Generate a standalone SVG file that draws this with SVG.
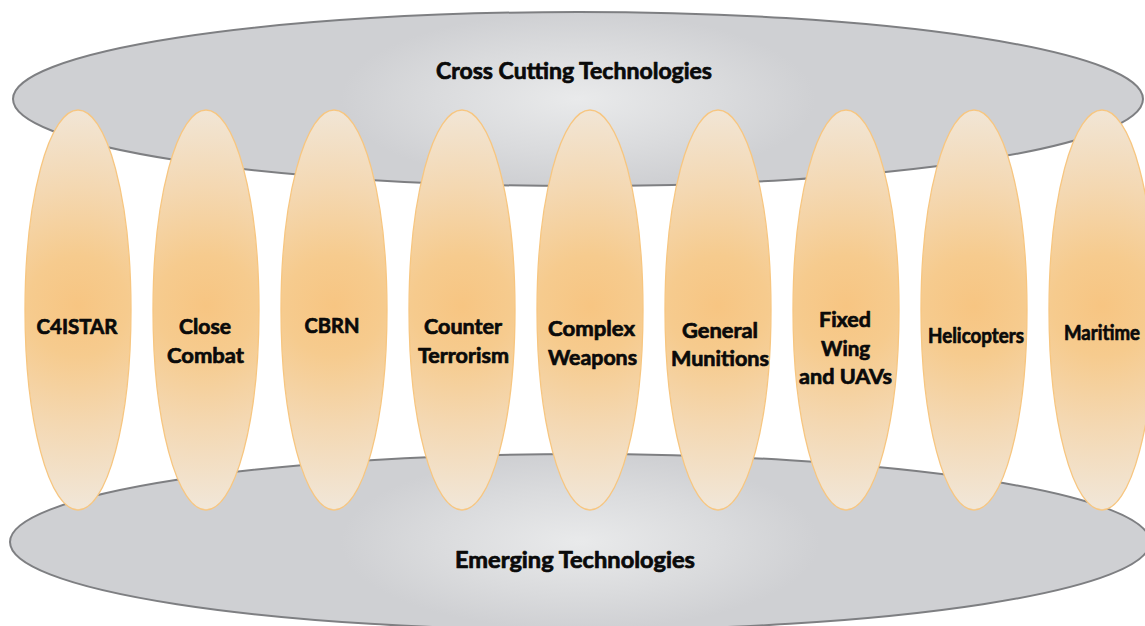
<svg xmlns="http://www.w3.org/2000/svg" width="1145" height="626" viewBox="0 0 1145 626">
  <defs>
    <radialGradient id="grayFill" cx="0.5" cy="0.5" r="0.5" fx="0.5" fy="0.5" gradientTransform="translate(0.5 0.5) scale(0.42 1) translate(-0.5 -0.5)">
      <stop offset="0" stop-color="#E9EAEB"/>
      <stop offset="0.6" stop-color="#DADBDD"/>
      <stop offset="1" stop-color="#CFD0D3"/>
    </radialGradient>
    <!-- circular falloff inside each tall ellipse (scaled by ry/rx) -->
    <radialGradient id="orangeFill" cx="0.5" cy="0.49" r="0.5" fx="0.5" fy="0.49" gradientTransform="translate(0.5 0.49) scale(3.77 1) translate(-0.5 -0.49)">
      <stop offset="0" stop-color="#F7C582"/>
      <stop offset="0.25" stop-color="#F6CB8E"/>
      <stop offset="0.6" stop-color="#F4D8B2"/>
      <stop offset="1" stop-color="#F1E6D7"/>
    </radialGradient>
    <style>
      .band { fill: url(#grayFill); stroke: #7E7F82; stroke-width: 2; }
      .pillar { fill: url(#orangeFill); stroke: #F7C680; stroke-width: 1.3; }
      .label, .title { font-family: Lato, "Open Sans", "Liberation Sans", sans-serif; font-weight: 700; fill: #0A0A0A; stroke: #0A0A0A; stroke-width: 0.7; stroke-linejoin: round; text-anchor: middle; }
      .label { font-size: 21px; }
      .title { font-size: 22px; }
    </style>
  </defs>

  <rect width="1145" height="626" fill="#FFFFFF"/>

  <!-- bands across all domains -->
  <g id="cross-cutting">
    <ellipse class="band" cx="578" cy="99" rx="565" ry="87"/>
    <text class="title" x="574" y="79" textLength="276" lengthAdjust="spacingAndGlyphs">Cross Cutting Technologies</text>
  </g>
  <g id="emerging">
    <ellipse class="band" cx="580" cy="542" rx="570" ry="88"/>
    <text class="title" x="575" y="568" textLength="240" lengthAdjust="spacingAndGlyphs">Emerging Technologies</text>
  </g>

  <!-- no connectors: the domains sit between the two bands -->
  <g id="connectors"/>

  <!-- domain pillars -->
  <g id="c4istar">
    <ellipse class="pillar" cx="78" cy="310" rx="53" ry="200"/>
    <text class="label" x="77" y="334" textLength="81" lengthAdjust="spacingAndGlyphs">C4ISTAR</text>
  </g>
  <g id="close-combat">
    <ellipse class="pillar" cx="206" cy="310" rx="53" ry="200"/>
    <text class="label" x="205" y="334" textLength="52" lengthAdjust="spacingAndGlyphs">Close</text>
    <text class="label" x="205.5" y="363" textLength="77" lengthAdjust="spacingAndGlyphs">Combat</text>
  </g>
  <g id="cbrn">
    <ellipse class="pillar" cx="334" cy="310" rx="53" ry="200"/>
    <text class="label" x="332" y="333" textLength="55" lengthAdjust="spacingAndGlyphs">CBRN</text>
  </g>
  <g id="counter-terrorism">
    <ellipse class="pillar" cx="462" cy="310" rx="53" ry="200"/>
    <text class="label" x="463" y="334" textLength="78" lengthAdjust="spacingAndGlyphs">Counter</text>
    <text class="label" x="463.5" y="363" textLength="91" lengthAdjust="spacingAndGlyphs">Terrorism</text>
  </g>
  <g id="complex-weapons">
    <ellipse class="pillar" cx="590" cy="310" rx="53" ry="200"/>
    <text class="label" x="591.5" y="336" textLength="87" lengthAdjust="spacingAndGlyphs">Complex</text>
    <text class="label" x="592.5" y="365" textLength="89" lengthAdjust="spacingAndGlyphs">Weapons</text>
  </g>
  <g id="general-munitions">
    <ellipse class="pillar" cx="718" cy="310" rx="53" ry="200"/>
    <text class="label" x="720" y="338" textLength="76" lengthAdjust="spacingAndGlyphs">General</text>
    <text class="label" x="720" y="366" textLength="98" lengthAdjust="spacingAndGlyphs">Munitions</text>
  </g>
  <g id="fixed-wing">
    <ellipse class="pillar" cx="846" cy="310" rx="53" ry="200"/>
    <text class="label" x="845" y="327" textLength="52" lengthAdjust="spacingAndGlyphs">Fixed</text>
    <text class="label" x="845.5" y="356" textLength="49" lengthAdjust="spacingAndGlyphs">Wing</text>
    <text class="label" x="845.5" y="384" textLength="93" lengthAdjust="spacingAndGlyphs">and UAVs</text>
  </g>
  <g id="helicopters">
    <ellipse class="pillar" cx="974" cy="310" rx="53" ry="200"/>
    <text class="label" x="976" y="343" font-size="18" textLength="96" lengthAdjust="spacingAndGlyphs">Helicopters</text>
  </g>
  <g id="maritime">
    <ellipse class="pillar" cx="1102" cy="310" rx="53" ry="200"/>
    <text class="label" x="1102" y="340" textLength="76" lengthAdjust="spacingAndGlyphs">Maritime</text>
  </g>
</svg>
